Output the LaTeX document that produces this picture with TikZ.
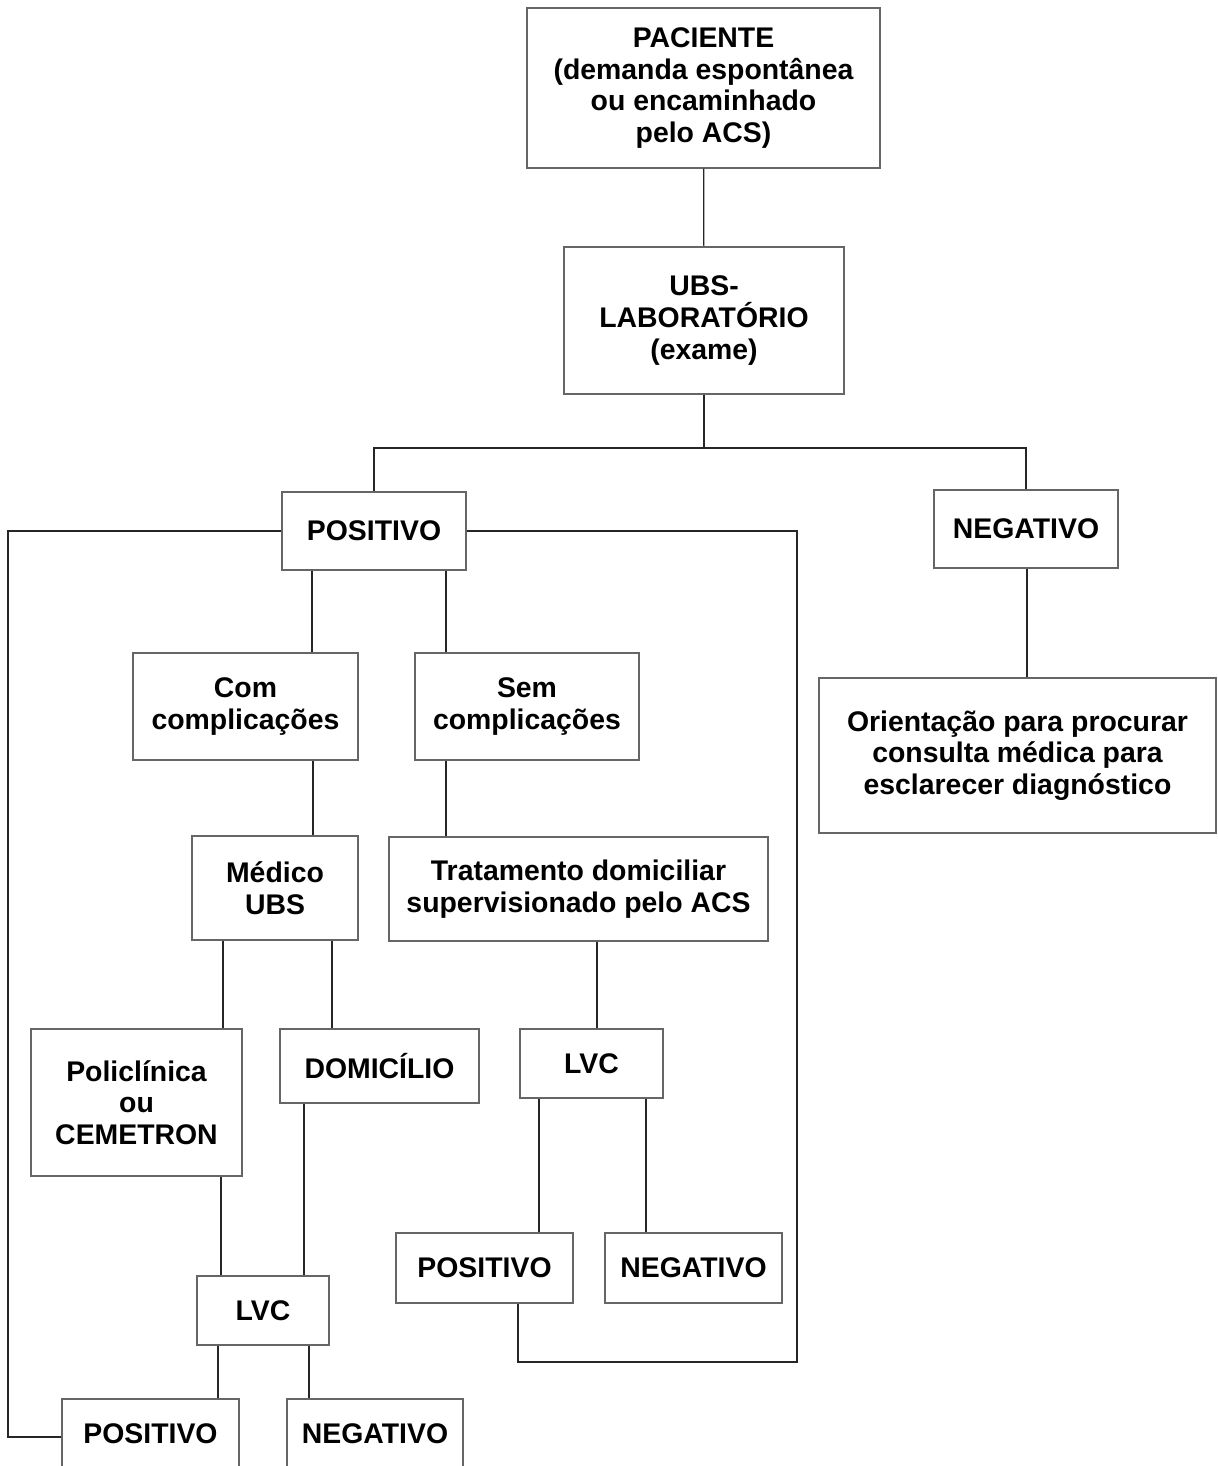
\documentclass[tikz,border=0pt]{standalone}
\usepackage{fontspec}
\setmainfont{Liberation Sans}
\begin{document}
\begin{tikzpicture}[x=.5pt,y=-.5pt,
  box/.style={draw=black!60,line width=.75pt,align=center,inner sep=0pt,
    font=\fontsize{14.2}{15.8}\selectfont\bfseries},
  link/.style={draw=black!85,line width=.6pt}]
  \useasboundingbox (0,0) rectangle (1218,1466);
  \clip (0,0) rectangle (1218,1466);
  % Top part of the Figure
  \node[box,minimum width=176.5pt,minimum height=80pt]  (pac)    at (703.5,88)    {PACIENTE\\(demanda espontânea\\ou encaminhado\\pelo ACS)};
  \node[box,minimum width=140pt,minimum height=73.5pt]  (ubs)    at (704,320.5)   {UBS-\\LABORATÓRIO\\(exame)};
  \node[box,minimum width=92pt,minimum height=39pt]     (pos1)   at (374,531)     {POSITIVO};
  \node[box,minimum width=92pt,minimum height=39pt]     (neg1)   at (1026,529)    {NEGATIVO};
  \node[box,minimum width=198.5pt,minimum height=77.5pt](orient) at (1017.5,755.5){Orientação para procurar\\consulta médica para\\esclarecer diagnóstico};
  % Middle part
  \node[box,minimum width=112.5pt,minimum height=53.5pt](com)    at (245.5,706.5) {Com\\complicações};
  \node[box,minimum width=112pt,minimum height=53.5pt]  (sem)    at (527,706.5)   {Sem\\complicações};
  \node[box,minimum width=83pt,minimum height=52pt]     (med)    at (275,888)     {Médico\\UBS};
  \node[box,minimum width=189.5pt,minimum height=52pt]  (trat)   at (578.5,889)   {Tratamento domiciliar\\supervisionado pelo ACS};
  \node[box,minimum width=105.5pt,minimum height=73.5pt](poli)   at (136.5,1102.5){Policlínica\\ou\\CEMETRON};
  \node[box,minimum width=99.5pt,minimum height=37pt]   (dom)    at (379.5,1066)  {DOMICÍLIO};
  \node[box,minimum width=71.5pt,minimum height=34.5pt] (lvc2)   at (591.5,1063.5){LVC};
  % Bottom part
  \node[box,minimum width=88.5pt,minimum height=35pt]   (pos2)   at (484.5,1268)  {POSITIVO};
  \node[box,minimum width=88.5pt,minimum height=35pt]   (neg2)   at (693.5,1268)  {NEGATIVO};
  \node[box,minimum width=66pt,minimum height=34.5pt]   (lvc1)   at (263,1310.5)  {LVC};
  \node[box,minimum width=88.5pt,minimum height=35pt]   (pos3)   at (150.5,1434)  {POSITIVO};
  \node[box,minimum width=88pt,minimum height=35pt]     (neg3)   at (375,1434)    {NEGATIVO};
  % connectors
  \coordinate (split) at (704,448);
  \coordinate (lft)   at (8,1437);
  \coordinate (rgt)   at (797,1362);
  \draw[link] (pac) -- (ubs);
  \draw[link] (ubs) -- (split);
  \draw[link] (pos1) |- (split) -| (neg1);
  \draw[link] (neg1.south -| 1027,0) -- (orient.north -| 1027,0);
  \draw[link] (pos1.south -| 312,0) -- (com.north -| 312,0);
  \draw[link] (pos1.south -| 446,0) -- (sem.north -| 446,0);
  \draw[link] (com.south -| 313,0) -- (med.north -| 313,0);
  \draw[link] (sem.south -| 446,0) -- (trat.north -| 446,0);
  \draw[link] (med.south -| 223,0) -- (poli.north -| 223,0);
  \draw[link] (med.south -| 332,0) -- (dom.north -| 332,0);
  \draw[link] (trat.south -| 597,0) -- (lvc2.north -| 597,0);
  \draw[link] (lvc2.south -| 539,0) -- (pos2.north -| 539,0);
  \draw[link] (lvc2.south -| 646,0) -- (neg2.north -| 646,0);
  \draw[link] (poli.south -| 221,0) -- (lvc1.north -| 221,0);
  \draw[link] (dom.south -| 304,0) -- (lvc1.north -| 304,0);
  \draw[link] (lvc1.south -| 218,0) -- (pos3.north -| 218,0);
  \draw[link] (lvc1.south -| 309,0) -- (neg3.north -| 309,0);
  % loops back from the first POSITIVO
  \draw[link] (pos1) -| (lft) -- (pos3.west |- lft);
  \draw[link] (pos1) -| (rgt) -| (pos2.south -| 518,0);
\end{tikzpicture}
\end{document}
